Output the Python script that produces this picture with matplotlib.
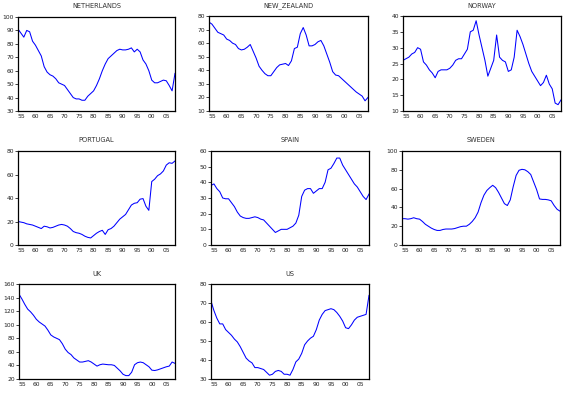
import matplotlib
matplotlib.use("Agg")
import matplotlib.pyplot as plt
import numpy as np

years = list(range(1954, 2009))

netherlands = [91, 88, 85, 90, 89, 82, 79, 75, 71, 63, 59, 57, 56, 54, 51, 50, 49, 46, 43, 40,
               39, 39, 38, 38, 41, 43, 45, 49, 54, 60, 65, 69, 71, 73, 75, 76, 75.5, 75.5, 76, 77,
               74, 76, 74, 68, 65, 60, 53, 51, 51, 52, 53, 52.5, 49, 45, 58]
new_zealand = [75.5, 74, 71, 68, 67, 66, 63, 62, 60, 59, 56, 55, 55.5, 57, 59, 54, 49, 43, 40, 37.5,
               36, 36, 39, 42, 44, 44.5, 45, 43.5, 47, 56, 57, 67, 71.5, 66, 58, 58, 59, 61, 62, 58,
               52, 46, 39, 36.5, 36, 34, 32, 30, 28, 26, 24, 22.5, 21, 17.5, 20]
norway = [26, 26.5, 27, 28, 28.5, 30, 29.5, 25.5, 24.5, 23, 22, 20.5, 22.5, 23, 23, 23, 23.5, 24.5, 26, 26.5,
          26.5, 28, 29.5, 35, 35.5, 38.5, 34, 30, 26, 21, 23.5, 26, 34, 27, 26, 25.5, 22.5, 23, 27, 35.5,
          33.5, 31, 28, 25, 22.5, 21, 19.5, 18, 19, 21.3, 18.5, 17, 12.5, 12, 13.5]
portugal = [20, 19.5, 19, 18, 17.5, 17, 16, 15, 14, 16, 15.5, 14.5, 15, 16, 17, 17.5, 17, 16, 14, 11.5,
            10.5, 10, 9, 7.5, 6.5, 6, 8, 10, 11.5, 12.5, 9, 13, 14, 16, 19, 22, 24, 26, 30, 34,
            35.5, 36, 39, 39.5, 33, 29.5, 54, 56, 59, 60.5, 63, 68, 70, 69.5, 71.5]
spain = [38, 39, 36, 34, 30, 29.5, 29.5, 27, 24.5, 21, 18.5, 17.5, 17, 17, 17.5, 18, 17.5, 16.5, 16, 14,
         12, 10, 8, 9, 10, 10, 10, 11, 12, 14, 19, 31, 35, 36, 36, 33, 34.5, 36, 36, 40,
         48, 49, 52, 55.5, 55.5, 51, 48, 45, 42, 39, 37, 34, 31, 29, 32.5]
sweden = [28, 28, 27.5, 28, 29, 28, 27.5, 25, 22, 20, 18, 16.5, 15.5, 15.5, 16.5, 17, 17, 17, 17.5, 18.5,
          19.5, 20, 20, 22, 25, 29, 35, 45, 53, 58, 61, 63.5, 61, 56, 50, 44, 42, 48, 62, 74,
          79.5, 80.5, 80, 78, 75, 67, 59, 49, 48.5, 48.5, 48, 47, 42, 38, 36]
uk = [145, 138, 130, 123, 119, 114, 108, 104, 101, 98, 92, 85, 82, 80, 78, 72, 64, 59, 56, 51,
      48, 45, 45, 46, 47, 45, 42, 39, 41, 42, 41.5, 41, 41, 40, 36, 32, 27, 25, 25, 30,
      41, 44, 45, 44, 41, 38, 33, 32.5, 33.5, 35, 36.5, 38, 39, 45, 43]
us = [71, 66, 62, 59, 59, 56, 54.5, 53, 51, 49.5, 47, 44, 41, 39.5, 38.5, 36, 36, 35.5, 35, 33.5,
      32, 32.5, 34, 34.5, 34, 32.5, 32.5, 32, 35, 39, 40.5, 43.5, 48, 50, 51.5, 52.5, 56, 61, 64, 66,
      66.5, 67, 66.5, 65, 63, 60.5, 57, 56.5, 58.5, 61, 62.5, 63, 63.5, 64, 74]

titles = ["NETHERLANDS", "NEW_ZEALAND", "NORWAY", "PORTUGAL", "SPAIN", "SWEDEN", "UK", "US"]
series = [netherlands, new_zealand, norway, portugal, spain, sweden, uk, us]
y_ranges = [(30, 100, 10), (10, 80, 10), (10, 40, 5), (0, 80, 20),
            (0, 60, 10), (0, 100, 20), (20, 160, 20), (30, 80, 10)]
x_ticks = list(range(1955, 2006, 5))
x_tick_labels = ["55", "60", "65", "70", "75", "80", "85", "90", "95", "00", "05"]

# pixel boxes (x0, y0, x1, y1) from top-left
boxes = [(18, 17, 175, 111), (209, 16, 368, 111), (403, 16, 561, 111),
         (18, 151, 175, 245), (211, 151, 369, 245), (402, 151, 560, 245),
         (19, 284, 175, 379), (211, 284, 369, 379)]
title_y = [6, 6, 6, 140, 140, 140, 274, 274]

W, H = 572, 395
fig = plt.figure(figsize=(W / 100, H / 100), dpi=100)
fig.patch.set_facecolor("white")

for title, vals, (lo, hi, step), (x0, y0, x1, y1), ty in zip(titles, series, y_ranges, boxes, title_y):
    ax = fig.add_axes([x0 / W, 1 - y1 / H, (x1 - x0) / W, (y1 - y0) / H])
    ax.plot(years, vals, color="#0000ff", lw=0.75)
    ax.set_xlim(1954, 2008)
    ax.set_ylim(lo, hi)
    ax.set_yticks(np.arange(lo, hi + step / 2, step))
    ax.set_xticks(x_ticks)
    ax.set_xticklabels(x_tick_labels)
    ax.tick_params(axis="both", labelsize=4.3, width=0.6, colors="#222222")
    ax.tick_params(axis="y", length=2, pad=1)
    ax.tick_params(axis="x", length=0, pad=2)
    for s in ax.spines.values():
        s.set_linewidth(0.9)
        s.set_color("black")
    fig.text((x0 + x1) / 2 / W, 1 - ty / H, title, ha="center", va="center",
             fontsize=4.8, color="#333333")

fig.savefig("out.png", dpi=100)
